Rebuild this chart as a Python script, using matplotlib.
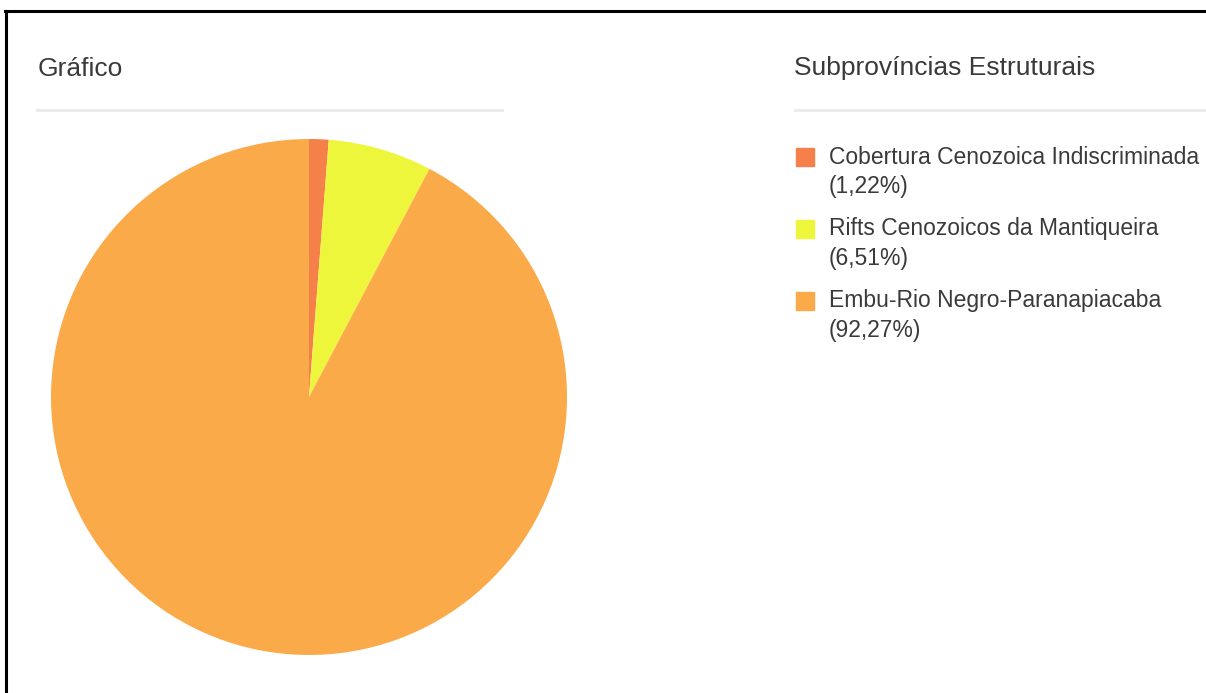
import matplotlib
matplotlib.use('Agg')
import matplotlib.pyplot as plt
from matplotlib.patches import Rectangle
from matplotlib.lines import Line2D

plt.rcParams['font.family'] = ['Liberation Sans', 'DejaVu Sans']

# Subprovíncias estruturais e respectivas áreas (%)
nomes = ['Cobertura Cenozoica Indiscriminada',
         'Rifts Cenozoicos da Mantiqueira',
         'Embu-Rio Negro-Paranapiacaba']
valores = [1.22, 6.51, 92.27]
cores = ['#F5804A', '#EEF63C', '#FBAA4A']

W, H = 1206, 693
fig = plt.figure(figsize=(W / 100, H / 100), dpi=100)
fig.patch.set_facecolor('white')

def fx(px):
    return px / W

def fy(py):
    return 1 - py / H

# Moldura (só topo e lado esquerdo aparecem)
fig.add_artist(Line2D([fx(5), 1], [fy(11), fy(11)], color='black', lw=2.2))
fig.add_artist(Line2D([fx(6), fx(6)], [fy(11), 0], color='black', lw=2.2))

txt_cor = '#3a3a3a'

# Painel do gráfico
fig.text(fx(38), fy(69), 'Gráfico', fontsize=19, color=txt_cor, va='center', ha='left')
fig.add_artist(Line2D([fx(37), fx(502)], [fy(110), fy(110)], color='#ebebeb', lw=2.2))

# Pizza
cx, cy, r = 309, 397, 258
ax = fig.add_axes([fx(cx - r), fy(cy + r), 2 * r / W, 2 * r / H])
ax.pie(valores, colors=cores, startangle=90, counterclock=False,
       wedgeprops=dict(linewidth=0))
ax.set_xlim(-1, 1)
ax.set_ylim(-1, 1)
ax.set_aspect('equal')
ax.axis('off')

# Painel da legenda
fig.text(fx(794), fy(68), 'Subprovíncias Estruturais', fontsize=19, color=txt_cor,
         va='center', ha='left')
fig.add_artist(Line2D([fx(795), 1], [fy(110), fy(110)], color='#ebebeb', lw=2.2))

y0 = 157
passo = 72
for i, (nome, val, cor) in enumerate(zip(nomes, valores, cores)):
    y = y0 + i * passo
    fig.add_artist(Rectangle((fx(796), fy(y + 9)), 18 / W, 18 / H, color=cor,
                             transform=fig.transFigure))
    fig.text(fx(829), fy(y), nome, fontsize=16.5, color=txt_cor, va='center', ha='left')
    rotulo = '({:.2f}%)'.format(val).replace('.', ',')
    fig.text(fx(829), fy(y + 30), rotulo, fontsize=16.5, color=txt_cor, va='center', ha='left')

fig.savefig('out.png', dpi=100)
